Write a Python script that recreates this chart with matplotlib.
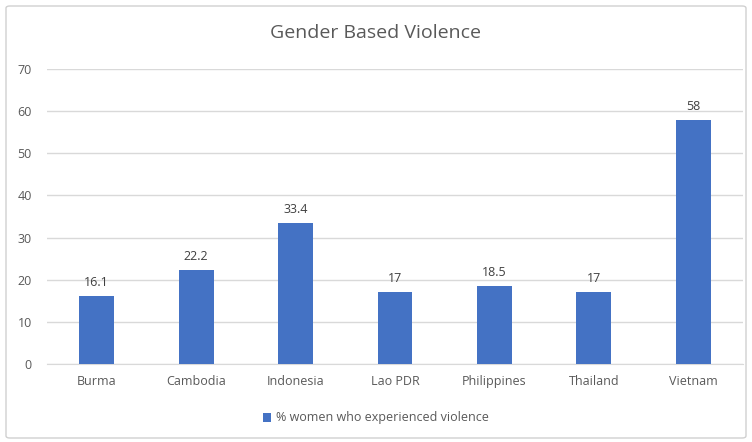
import matplotlib.pyplot as plt
from matplotlib.patches import FancyBboxPatch

countries = ["Burma", "Cambodia", "Indonesia", "Lao PDR", "Philippines", "Thailand", "Vietnam"]
pct_violence = [16.1, 22.2, 33.4, 17, 18.5, 17, 58]
value_labels = ["16.1", "22.2", "33.4", "17", "18.5", "17", "58"]
y_ticks = [0, 10, 20, 30, 40, 50, 60, 70]

BAR = "#4472C4"
GREY = "#595959"
GRID = "#D9D9D9"

plt.rcParams["font.family"] = ["Open Sans", "DejaVu Sans"]

fig = plt.figure(figsize=(7.52, 4.42), dpi=100)
border = FancyBboxPatch((6 / 752, 4 / 442), 740 / 752, 432 / 442,
                        boxstyle="round,pad=0,rounding_size=0.005",
                        transform=fig.transFigure, fc="none",
                        ec="#D0D0D0", lw=1, zorder=-1)
fig.patches.append(border)

ax = fig.add_axes([47 / 752, 1 - 364 / 442, (743 - 47) / 752, (364 - 69) / 442])
ax.set_facecolor("none")
x = range(len(countries))
bars = ax.bar(x, pct_violence, width=0.352, color=BAR, zorder=3,
              label="% women who experienced violence")
for rect, lab in zip(bars, value_labels):
    ax.annotate(lab, (rect.get_x() + rect.get_width() / 2, rect.get_height()),
                xytext=(0, 5), textcoords="offset points", ha="center", va="bottom",
                fontsize=9, color="#404040")

ax.set_xlim(-0.5, len(countries) - 0.5)
ax.set_ylim(0, 70)
ax.set_yticks(y_ticks)
ax.set_xticks(list(x))
ax.set_xticklabels(countries)
ax.yaxis.grid(True, color=GRID, lw=1, zorder=0)
ax.tick_params(axis="both", length=0, labelsize=9, labelcolor=GREY)
ax.tick_params(axis="y", pad=11)
ax.tick_params(axis="x", pad=8)
for s in ["top", "right", "left"]:
    ax.spines[s].set_visible(False)
ax.spines["bottom"].set_color(GRID)

fig.text(0.5, 1 - 33 / 442, "Gender Based Violence", ha="center", va="center",
         fontsize=14, color=GREY)
fig.legend(loc="center", bbox_to_anchor=(0.5, 1 - 418 / 442), frameon=False,
           fontsize=9, labelcolor=GREY, handlelength=0.7, handleheight=0.7,
           handletextpad=0.4)

fig.savefig("out.png", dpi=100)
